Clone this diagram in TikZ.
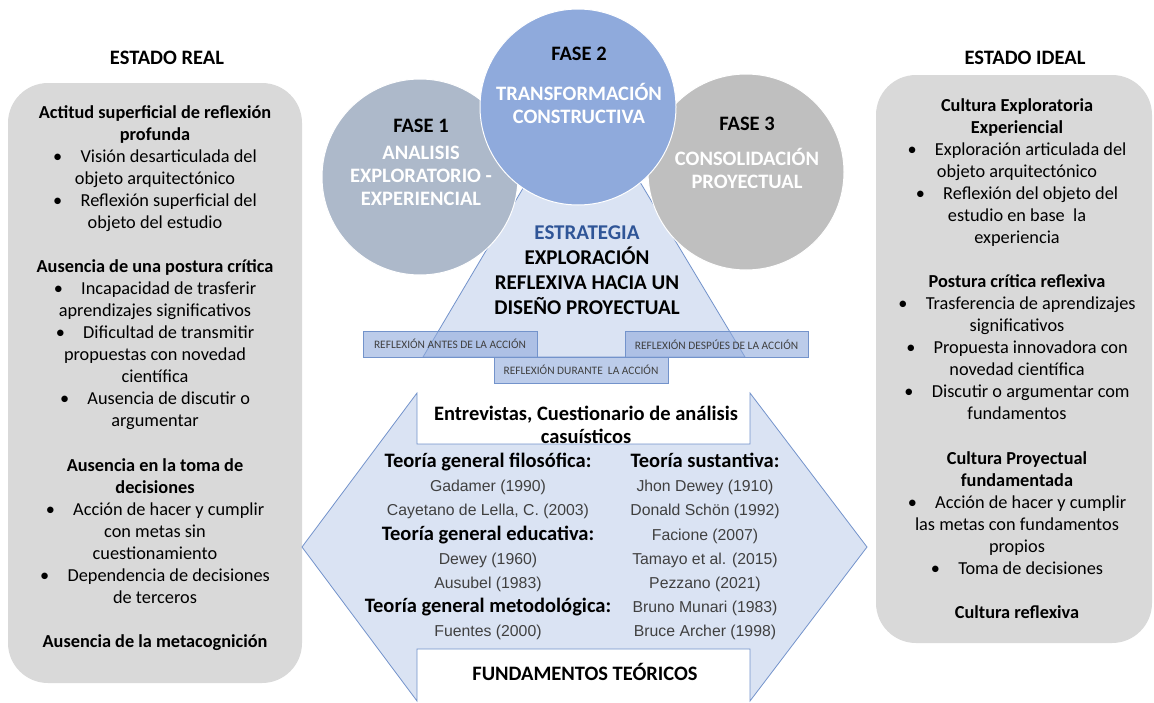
\documentclass[tikz,border=0pt]{standalone}
\usepackage{fontspec}
\setmainfont{Carlito}
\newfontfamily\arialfont{Liberation Sans}
\usetikzlibrary{positioning}

\definecolor{boxgray}{HTML}{D9D9D9}
\definecolor{faseone}{HTML}{ADB9CA}
\definecolor{fasetwo}{HTML}{8FAADC}
\definecolor{fasethree}{HTML}{BFBFBF}
\definecolor{paleblue}{HTML}{DAE3F3}
\definecolor{edgeblue}{HTML}{7393CB}
\definecolor{strblue}{HTML}{2F5597}
\definecolor{txtgray}{HTML}{404040}

\newcommand{\bul}{\textbullet\hspace{1em}}
\newcommand{\teo}[1]{{\rmfamily\fontsize{20.5}{24.1}\selectfont\bfseries\color{black}#1}}

\begin{document}
\begin{tikzpicture}[x=1pt,y=-1pt,
    estado/.style={rectangle,rounded corners=40pt,fill=boxgray,inner sep=0pt},
    estadotxt/.style={align=center,font=\fontsize{18.3}{22.05}\selectfont,text=black},
    titulo/.style={font=\fontsize{20.5}{24}\selectfont\bfseries},
    fase/.style={circle,draw=white,line width=1pt,minimum size=196pt,inner sep=0pt},
    fasetxt/.style={align=center,font=\fontsize{20.5}{23}\selectfont\bfseries},
    tag/.style={rectangle,draw=edgeblue,fill=fasetwo,fill opacity=0.6,text opacity=1,
        minimum height=26pt,inner sep=0pt,text=txtgray,font=\fontsize{11.4}{13}\selectfont},
    columna/.style={align=center,font=\arialfont\fontsize{15.8}{24.1}\selectfont,text=txtgray},
    teoria/.style={align=center,font=\fontsize{20.5}{23}\selectfont\bfseries}]

\useasboundingbox (0,0) rectangle (1154,702);

% estado real / estado ideal
\node[estado,minimum width=294pt,minimum height=600pt] (real) at (155,383) {};
\node[estado,minimum width=276pt,minimum height=568pt] (ideal) at (1014,359) {};
\node[titulo] (treal) at (167,58) {ESTADO REAL};
\node[titulo] (tideal) at (1025,58) {ESTADO IDEAL};

\node[estadotxt] (realtxt) at (155,378) {%
\textbf{Actitud superficial de reflexión}\\
\textbf{profunda}\\
\bul Visión desarticulada del\\
objeto arquitectónico\\
\bul Reflexión superficial del\\
objeto del estudio\\[22.05pt]
\textbf{Ausencia de una postura crítica}\\
\bul Incapacidad de trasferir\\
aprendizajes significativos\\
\bul Dificultad de transmitir\\
propuestas con novedad\\
científica\\
\bul Ausencia de discutir o\\
argumentar\\[22.05pt]
\textbf{Ausencia en la toma de}\\
\textbf{decisiones}\\
\bul Acción de hacer y cumplir\\
con metas sin\\
cuestionamiento\\
\bul Dependencia de decisiones\\
de terceros\\[22.05pt]
\textbf{Ausencia de la metacognición}};

\node[estadotxt] (idealtxt) at (1017,358.5) {%
\textbf{Cultura Exploratoria}\\
\textbf{Experiencial}\\
\bul Exploración articulada del\\
objeto arquitectónico\\
\bul Reflexión del objeto del\\
estudio en base\ \ la\\
experiencia\\[22.05pt]
\textbf{Postura crítica reflexiva}\\
\bul Trasferencia de aprendizajes\\
significativos\\
\bul Propuesta innovadora con\\
novedad científica\\
\bul Discutir o argumentar com\\
fundamentos\\[22.05pt]
\textbf{Cultura Proyectual}\\
\textbf{fundamentada}\\
\bul Acción de hacer y cumplir\\
las metas con fundamentos\\
propios\\
\bul Toma de decisiones\\[22.05pt]
\textbf{Cultura reflexiva}};

% estrategia
\draw[fill=paleblue,draw=edgeblue,line width=0.8pt] (583,87) -- (423,357) -- (745,357) -- cycle;
\node[align=center,font=\fontsize{21}{25}\selectfont\bfseries] (estr) at (587,270.5)
    {\textcolor{strblue}{ESTRATEGIA}\\EXPLORACIÓN\\REFLEXIVA HACIA UN\\DISEÑO PROYECTUAL};

% fases
\node[fase,fill=faseone] (fase1) at (420,177) {};
\node[fase,fill=fasethree] (fase3) at (746,172) {};
\node[fase,fill=fasetwo] (fase2) at (578,107) {};
\node[fasetxt] (f1txt) at (421,162) {FASE 1\\[4pt]\textcolor{white}{ANALISIS}\\\textcolor{white}{EXPLORATORIO -}\\\textcolor{white}{EXPERIENCIAL}};
\node[fasetxt] (f2txt) at (579,85.5) {FASE 2\\[17pt]\textcolor{white}{TRANSFORMACIÓN}\\\textcolor{white}{CONSTRUCTIVA}};
\node[fasetxt] (f3txt) at (747,153) {FASE 3\\[12pt]\textcolor{white}{CONSOLIDACIÓN}\\\textcolor{white}{PROYECTUAL}};

% momentos de reflexion
\node[tag,minimum width=174pt] (antes) at (450,344) {REFLEXIÓN ANTES DE LA ACCIÓN};
\node[tag,minimum width=183pt] (despues) at (716.5,344.5) {REFLEXIÓN DESPÚES DE LA ACCIÓN};
\node[tag,minimum width=174pt] (durante) at (581,370) {REFLEXIÓN DURANTE\ \ LA ACCIÓN};

% fundamentos teoricos
\draw[fill=paleblue,draw=edgeblue,line width=0.8pt]
    (302,547) -- (417,393) -- (417,444) -- (750,444) -- (750,393) -- (867,547)
    -- (750,701) -- (750,649) -- (417,649) -- (417,701) -- cycle;
\node[teoria] (entrev) at (586,424.5) {Entrevistas, Cuestionario de análisis\\casuísticos};
\node[teoria] (fundam) at (585,672) {FUNDAMENTOS TEÓRICOS};

\node[columna] (izq) at (488,546.5) {%
\teo{Teoría general filosófica:}\\
Gadamer (1990)\\
Cayetano de Lella, C. (2003)\\
\teo{Teoría general educativa:}\\
Dewey (1960)\\
Ausubel (1983)\\
\teo{Teoría general metodológica:}\\
Fuentes (2000)};
\node[columna] (der) at (705,546.5) {%
\teo{Teoría sustantiva:}\\
Jhon Dewey (1910)\\
Donald Schön (1992)\\
Facione (2007)\\
Tamayo et al. (2015)\\
Pezzano (2021)\\
Bruno Munari (1983)\\
Bruce Archer (1998)};
\end{tikzpicture}
\end{document}
